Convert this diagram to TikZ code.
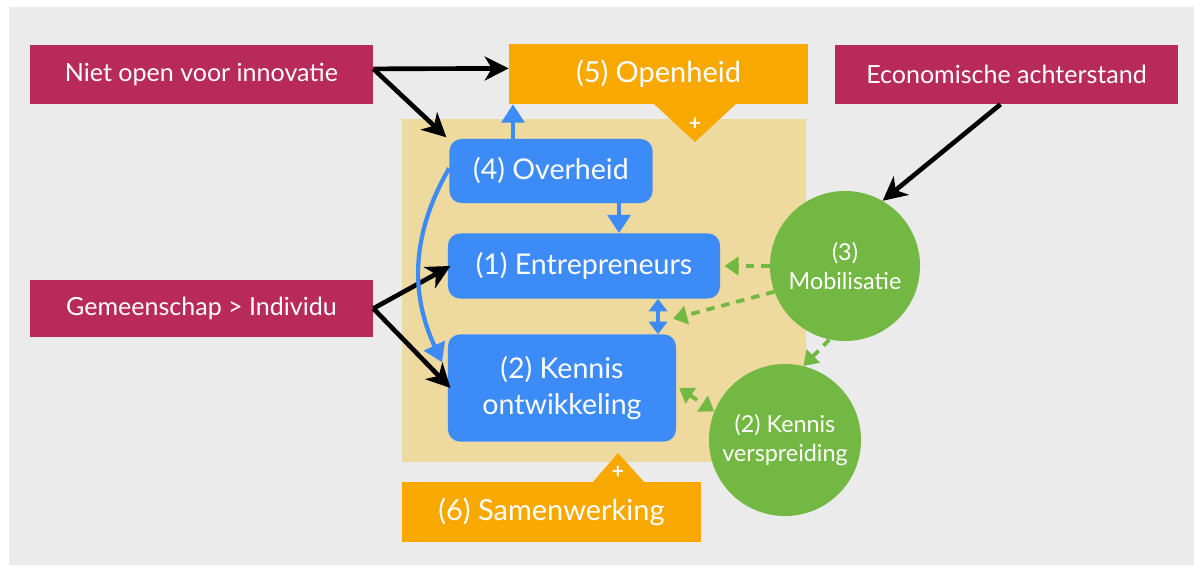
\documentclass[tikz,border=0pt]{standalone}
\usepackage{fontspec}
\setmainfont{Lato}
\usetikzlibrary{arrows.meta,calc}
\definecolor{bggrey}{RGB}{235,235,235}
\definecolor{crimson}{RGB}{184,42,90}
\definecolor{orng}{RGB}{249,168,0}
\definecolor{tan}{RGB}{238,217,158}
\definecolor{bl}{RGB}{61,139,247}
\definecolor{grn}{RGB}{115,184,67}
\begin{document}
\begin{tikzpicture}[x=0.025cm,y=-0.025cm,
  redbox/.style={rectangle, fill=crimson, text=white, minimum width=8.575cm, minimum height=1.475cm, inner sep=0pt, font=\fontsize{17.8}{20}\selectfont},
  orangebox/.style={rectangle, fill=orng, text=white, minimum width=7.475cm, minimum height=1.5cm, inner sep=0pt, font=\fontsize{20.6}{24}\selectfont},
  bluebox/.style={rectangle, rounded corners=0.3cm, fill=bl, text=white, inner sep=0pt, align=center, font=\fontsize{20.3}{25}\selectfont},
  greencirc/.style={circle, fill=grn, text=white, inner sep=0pt, align=center, font=\fontsize{16.6}{21}\selectfont},
  plussign/.style={text=white, inner sep=0pt, font=\fontsize{15}{16}\selectfont\bfseries},
  blackarr/.style={draw=black, line width=3.3pt, -{Stealth[length=17pt,width=17pt,inset=5pt]}},
  bluearr/.style={draw=bl, line width=3pt, -{Triangle[length=13pt,width=16pt]}},
  bluedbl/.style={draw=bl, line width=3pt, {Triangle[length=9pt,width=13pt]}-{Triangle[length=9pt,width=13pt]}},
  greenarr/.style={draw=grn, line width=2.7pt, dash pattern=on 6pt off 5pt, -{Triangle[length=10pt,width=13pt]}},
  greendbl/.style={draw=grn, line width=2.7pt, dash pattern=on 6pt off 5pt, {Triangle[length=10pt,width=13pt]}-{Triangle[length=10pt,width=13pt]}}
]
\useasboundingbox (0,0) rectangle (1194,565);
\fill[white] (0,0) rectangle (1194,565);
\fill[bggrey] (9,7) rectangle (1194,565);
% tan area
\fill[tan] (402,119) rectangle (806,462);
% orange boxes
\node[orangebox] (open) at (658.5,74) {(5) Openheid};
\fill[orng] (653,103) -- (737,103) -- (695,142) -- cycle;
\node[plussign] (plus1) at (695,124) {+};
\node[orangebox] (samen) at (551.5,512) {(6) Samenwerking};
\fill[orng] (592,483) -- (645,483) -- (618,453) -- cycle;
\node[plussign] (plus2) at (618,472) {+};
% red boxes
\node[redbox] (niet) at (201.5,74.5) {Niet open voor innovatie};
\node[redbox] (econ) at (1006.5,74.5) {Economische achterstand};
\node[redbox, minimum height=1.425cm] (gem) at (201.5,308.5) {Gemeenschap > Individu};
% blue boxes
\node[bluebox, minimum width=5.075cm, minimum height=1.6cm] (over) at (551,171) {(4) Overheid};
\node[bluebox, minimum width=6.8cm, minimum height=1.625cm] (entre) at (584,266) {(1) Entrepreneurs};
\node[bluebox, minimum width=5.7cm, minimum height=2.675cm] (kennis) at (562,388) {(2) Kennis\\ontwikkeling};
% green circles
\node[greencirc, minimum size=3.75cm] (mob) at (845,266) {(3)\\Mobilisatie};
\node[greencirc, minimum size=3.8cm] (kv) at (785,440) {(2) Kennis\\verspreiding};
% black arrows
\draw[blackarr] ([yshift=4pt]niet.east) -- ([yshift=4pt]open.west);
\draw[blackarr] ([yshift=4pt]niet.east) -- ([xshift=-2pt,yshift=1pt]over.north west);
\draw[blackarr] (gem.east) -- ([xshift=2pt]entre.west);
\draw[blackarr] (gem.east) -- ([xshift=2pt]kennis.west);
\draw[blackarr] ([xshift=-0.15cm]econ.south) -- (mob.60);
% blue arrows
\coordinate (o1) at ([xshift=-0.95cm]over.north);
\draw[bluearr] (o1) -- (o1 |- open.south);
\coordinate (o2) at ([xshift=1.7cm]over.south);
\draw[bluearr] (o2) -- (o2 |- entre.north);
\coordinate (o3) at ([xshift=1.85cm]entre.south);
\draw[bluedbl] (o3) -- (o3 |- kennis.north);
\draw[bluearr] ([yshift=2pt]over.west) to[out=240,in=115] ([xshift=-4pt,yshift=-0.7cm]kennis.north west);
% green arrows
\draw[greenarr] (mob.west) -- ([xshift=3pt]entre.east);
\coordinate (g1) at ([xshift=0.375cm,yshift=-0.5cm]o3);
\draw[greenarr] (mob.200) -- (g1);
\draw[greenarr] (mob.258) -- (kv.76);
\draw[greendbl] ([xshift=2pt]kennis.east) -- (kv.158);
\end{tikzpicture}
\end{document}
